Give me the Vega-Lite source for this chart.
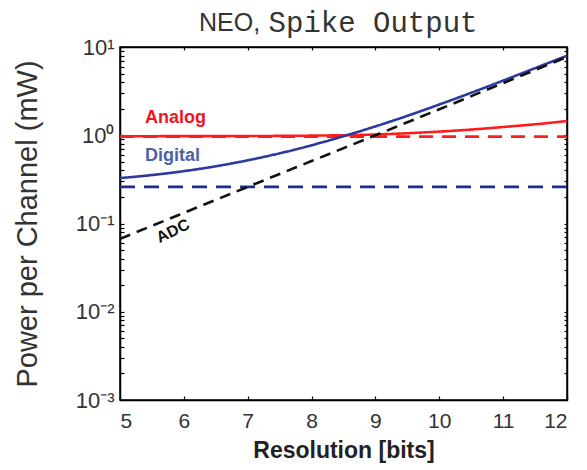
{
  "$schema": "https://vega.github.io/schema/vega-lite/v6.json",
  "width": 447,
  "height": 353,
  "autosize": {"type": "none"},
  "padding": {"left": 120, "top": 47, "right": 20, "bottom": 70},
  "background": "white",
  "title": {
    "text": "NEO,",
    "subtitle": "\u200b\u00a0\u00a0\u00a0\u00a0Spike Output",
    "anchor": "start",
    "frame": "group",
    "dx": 79,
    "offset": -4,
    "font": "Liberation Sans",
    "fontSize": 25,
    "fontWeight": "normal",
    "color": "#333333",
    "subtitleFont": "Liberation Mono",
    "subtitleFontSize": 29,
    "subtitleColor": "#333333",
    "subtitlePadding": -27
  },
  "config": {
    "view": {"stroke": "black", "strokeWidth": 1.5},
    "axis": {
      "domainColor": "black",
      "domainWidth": 1.5,
      "tickColor": "black",
      "tickWidth": 1.2,
      "tickSize": -4,
      "grid": false,
      "labelFont": "Liberation Sans",
      "labelColor": "#333333",
      "titleColor": "#222222"
    }
  },
  "resolve": {"axis": {"x": "independent", "y": "independent"}},
  "layer": [
    {
      "data": {
        "values": [
          {"series": "Analog", "bits": 5, "power": 0.975},
          {"series": "Analog", "bits": 6, "power": 0.977},
          {"series": "Analog", "bits": 7, "power": 0.98},
          {"series": "Analog", "bits": 8, "power": 0.99},
          {"series": "Analog", "bits": 9, "power": 1.02},
          {"series": "Analog", "bits": 10, "power": 1.1},
          {"series": "Analog", "bits": 10.5, "power": 1.16},
          {"series": "Analog", "bits": 11, "power": 1.24},
          {"series": "Analog", "bits": 11.5, "power": 1.33},
          {"series": "Analog", "bits": 12, "power": 1.45},
          {"series": "Analog baseline", "bits": 5, "power": 0.965},
          {"series": "Analog baseline", "bits": 12, "power": 0.965},
          {"series": "Digital", "bits": 5, "power": 0.327},
          {"series": "Digital", "bits": 5.5, "power": 0.354},
          {"series": "Digital", "bits": 6, "power": 0.392},
          {"series": "Digital", "bits": 6.5, "power": 0.445},
          {"series": "Digital", "bits": 7, "power": 0.52},
          {"series": "Digital", "bits": 7.5, "power": 0.624},
          {"series": "Digital", "bits": 8, "power": 0.77},
          {"series": "Digital", "bits": 8.5, "power": 0.975},
          {"series": "Digital", "bits": 9, "power": 1.26},
          {"series": "Digital", "bits": 9.5, "power": 1.66},
          {"series": "Digital", "bits": 10, "power": 2.23},
          {"series": "Digital", "bits": 10.5, "power": 3.03},
          {"series": "Digital", "bits": 11, "power": 4.16},
          {"series": "Digital", "bits": 11.5, "power": 5.76},
          {"series": "Digital", "bits": 12, "power": 7.96},
          {"series": "Digital baseline", "bits": 5, "power": 0.26},
          {"series": "Digital baseline", "bits": 12, "power": 0.26},
          {"series": "ADC", "bits": 5, "power": 0.067},
          {"series": "ADC", "bits": 6, "power": 0.132},
          {"series": "ADC", "bits": 7, "power": 0.26},
          {"series": "ADC", "bits": 8, "power": 0.51},
          {"series": "ADC", "bits": 9, "power": 1.0},
          {"series": "ADC", "bits": 10, "power": 1.97},
          {"series": "ADC", "bits": 11, "power": 3.9},
          {"series": "ADC", "bits": 12, "power": 7.7}
        ]
      },
      "mark": {"type": "line", "strokeWidth": 2.6, "interpolate": "monotone", "clip": true},
      "encoding": {
        "x": {
          "field": "bits", "type": "quantitative",
          "scale": {"domain": [5, 12], "nice": false, "zero": false},
          "axis": {
            "orient": "bottom",
            "values": [5, 6, 7, 8, 9, 10, 11, 12],
            "labelFontSize": 21,
            "labelPadding": 14,
            "title": "Resolution [bits]",
            "titleFont": "Liberation Sans",
            "titleFontSize": 23,
            "titleFontWeight": "bold",
            "titlePadding": 8
          }
        },
        "y": {
          "field": "power", "type": "quantitative",
          "scale": {"type": "log", "domain": [0.001, 10], "nice": false},
          "axis": {
            "orient": "left",
            "values": [0.001, 0.002, 0.003, 0.004, 0.005, 0.006, 0.007, 0.008, 0.009, 0.01, 0.02, 0.03, 0.04, 0.05, 0.06, 0.07, 0.08, 0.09, 0.1, 0.2, 0.3, 0.4, 0.5, 0.6, 0.7, 0.8, 0.9, 1, 2, 3, 4, 5, 6, 7, 8, 9, 10],
            "labelExpr": "datum.value == 10 ? '10¹' : datum.value == 1 ? '10⁰' : datum.value == 0.1 ? '10⁻¹' : datum.value == 0.01 ? '10⁻²' : datum.value == 0.001 ? '10⁻³' : ''",
            "labelFontSize": 22,
            "labelPadding": 10,
            "labelFlush": false,
            "labelOverlap": false,
            "title": "Power per Channel (mW)",
            "titleFont": "Liberation Sans",
            "titleFontSize": 29,
            "titleFontWeight": "normal",
            "titleColor": "#333333",
            "titlePadding": 33
          }
        },
        "color": {
          "field": "series", "type": "nominal", "legend": null,
          "scale": {
            "domain": ["Analog", "Analog baseline", "Digital", "Digital baseline", "ADC"],
            "range": ["#ff1c1c", "#ff1c1c", "#2b3a9c", "#1e2d90", "#111111"]
          }
        },
        "strokeDash": {
          "field": "series", "type": "nominal", "legend": null,
          "scale": {
            "domain": ["Analog", "Analog baseline", "Digital", "Digital baseline", "ADC"],
            "range": [[1, 0], [14, 9], [1, 0], [15, 9], [11, 7]]
          }
        }
      }
    },
    {
      "data": {"values": [{"label": "Analog", "bits": 5.39, "power": 1.56}]},
      "mark": {"type": "text", "align": "left", "baseline": "middle", "font": "Liberation Sans", "fontSize": 18, "fontWeight": "bold", "color": "#ee1520"},
      "encoding": {
        "x": {"field": "bits", "type": "quantitative",
          "axis": {"orient": "top", "values": [5, 6, 7, 8, 9, 10, 11, 12], "labels": false, "title": null, "tickSize": -3}},
        "y": {"field": "power", "type": "quantitative",
          "axis": {"orient": "right", "values": [0.001, 0.002, 0.003, 0.004, 0.005, 0.006, 0.007, 0.008, 0.009, 0.01, 0.02, 0.03, 0.04, 0.05, 0.06, 0.07, 0.08, 0.09, 0.1, 0.2, 0.3, 0.4, 0.5, 0.6, 0.7, 0.8, 0.9, 1, 2, 3, 4, 5, 6, 7, 8, 9, 10], "labels": false, "title": null, "tickSize": -3}},
        "text": {"field": "label"}
      }
    },
    {
      "data": {"values": [{"label": "Digital", "bits": 5.39, "power": 0.58}]},
      "mark": {"type": "text", "align": "left", "baseline": "middle", "font": "Liberation Sans", "fontSize": 18, "fontWeight": "bold", "color": "#4a62a6"},
      "encoding": {
        "x": {"field": "bits", "type": "quantitative", "axis": null},
        "y": {"field": "power", "type": "quantitative", "axis": null},
        "text": {"field": "label"}
      }
    },
    {
      "data": {"values": [{"label": "ADC", "bits": 5.83, "power": 0.082}]},
      "mark": {"type": "text", "align": "center", "baseline": "middle", "angle": -26, "font": "Liberation Sans", "fontSize": 16, "fontWeight": "bold", "color": "#111111"},
      "encoding": {
        "x": {"field": "bits", "type": "quantitative", "axis": null},
        "y": {"field": "power", "type": "quantitative", "axis": null},
        "text": {"field": "label"}
      }
    }
  ]
}
